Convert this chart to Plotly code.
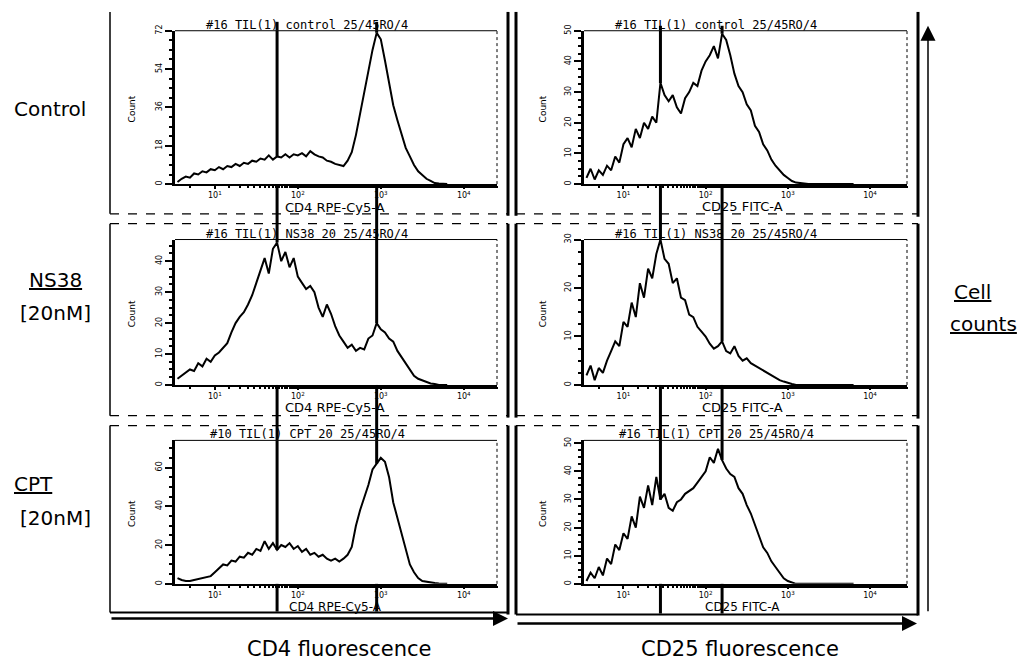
import plotly.graph_objects as go

W, H = 1033, 665

# ---------------- data ----------------
# bin centres, log10 of fluorescence intensity
BIN_LOG = [round(0.55 + 0.05 * i, 2) for i in range(66)]

CTRL_CD4 = [1, 2.5, 3.5, 3, 5, 4.5, 6, 5.5, 7, 6.5,
            8, 7, 8.5, 8, 9.5, 8.5, 10, 9.5, 11, 10.5,
            12, 11.5, 13.5, 11.5, 13, 12.5, 14, 12.5, 14, 13.5,
            14.5, 13, 15.5, 14, 13, 12.5, 11, 10.5, 9.5, 9,
            8.5, 11, 15, 23, 33, 42, 52, 63, 71, 68,
            58, 47, 37, 30, 24, 17, 13, 9, 6, 4,
            2.5, 1.5, 0.5, 0.3, 0.2, 0]
CTRL_CD25 = [2, 5, 1.5, 4.5, 3, 6, 4.5, 9, 7, 13,
             15, 12, 18, 15, 20, 18, 22, 20, 33, 29,
             27, 29, 25, 23, 28, 30, 33, 32, 37, 40,
             42, 45, 41, 49, 47, 42, 36, 32, 30, 26,
             24, 19, 17, 13, 11, 8, 6, 4.5, 3, 2,
             1, 0.5, 0.3, 0, 0, 0, 0, 0, 0, 0,
             0, 0, 0, 0, 0, 0]
NS38_CD4 = [2, 3, 4, 5, 4.5, 7, 6, 8.5, 7.5, 9.5,
            10.5, 12, 13.5, 17, 20, 22, 23.5, 26, 29, 33,
            37, 41, 36, 44, 46, 40, 43, 38, 41, 35,
            33, 31, 32, 30, 25, 22, 26, 23, 19, 16,
            14, 12, 13, 11, 12, 11.5, 15, 16, 20, 18,
            17, 15, 14, 11, 9, 7, 5, 3, 2, 1.5,
            1, 0.5, 0.3, 0, 0, 0]
NS38_CD25 = [2, 4, 1, 3.5, 2.5, 5, 7, 9, 8, 13,
             12, 17, 14, 21, 18, 24, 22, 27, 30, 26,
             25, 21, 22, 18, 17.5, 14.5, 14, 12, 11, 10,
             8.5, 7.5, 8, 9, 7, 6.5, 8, 6, 5, 5.5,
             4.5, 4, 3.5, 3, 2.5, 2, 1.5, 1, 0.7, 0.4,
             0.2, 0, 0, 0, 0, 0, 0, 0, 0, 0,
             0, 0, 0, 0, 0, 0]
CPT_CD4 = [3, 2, 1.5, 1.5, 2, 2.5, 3, 3.5, 4, 6,
           8, 10, 9.5, 12, 11.5, 14, 13.5, 16, 15, 18,
           17, 22, 18, 21, 17.5, 20, 19, 21, 18, 19.5,
           16.5, 18, 15, 16, 14, 15, 13, 12, 13, 11.5,
           13, 15, 19, 30, 38, 44, 51, 59, 62, 65,
           63, 55, 42, 34, 27, 18, 10, 6, 3, 1.5,
           1, 0.7, 0.4, 0.2, 0, 0]
CPT_CD25 = [1, 4, 2, 6, 3, 9, 7, 14, 12, 18,
            16, 24, 20, 31, 27, 35, 28, 38, 30, 32,
            27, 26, 29, 30, 32, 33, 34, 36, 38, 40,
            45, 43, 48, 44, 41, 39, 38, 34, 32, 28,
            25, 21, 17, 13, 11, 8, 6, 4, 2, 1,
            0.4, 0, 0, 0, 0, 0, 0, 0, 0, 0,
            0, 0, 0, 0, 0, 0]

GATES_CD4 = [1.75, 2.95]      # log10 positions of gate markers
GATES_CD25 = [1.45, 2.20]

X_TICKVALS = [10, 100, 1000, 10000]
X_TICKTEXT = ["10<sup>1</sup>", "10<sup>2</sup>", "10<sup>3</sup>", "10<sup>4</sup>"]

ROW_LABELS = ["Control", "<u>NS38</u>", "[20nM]", "<u>CPT</u>", "[20nM]"]

PANEL_TITLES = ["#16 TIL(1) control 25/45RO/4", "#16 TIL(1) control 25/45RO/4",
                "#16 TIL(1) NS38 20 25/45RO/4", "#16 TIL(1) NS38 20 25/45RO/4",
                "#10 TIL(1) CPT 20 25/45RO/4", "#16 TIL(1) CPT 20 25/45RO/4"]
X_TITLES = ["CD4 RPE-Cy5-A", "CD25 FITC-A"]

Y_MAX = [72, 50, 47, 30, 74, 51]
Y_TICKS = [[0, 18, 36, 54, 72], [0, 10, 20, 30, 40, 50], [0, 10, 20, 30, 40],
           [0, 10, 20, 30], [0, 20, 40, 60], [0, 10, 20, 30, 40, 50]]

SERIES = [CTRL_CD4, CTRL_CD25, NS38_CD4, NS38_CD25, CPT_CD4, CPT_CD25]

# ---------------- layout helpers ----------------
def X(px):
    return px / W


def Y(py):
    return 1 - py / H


COL_X = [(175, 497, 0.52, 4.40), (584, 907, 0.52, 4.45)]
ROW_Y = [(25, 180), (236, 383), (439, 584)]
XTITLE_Y = [[204, 406, 607], [203, 406, 607]]

fig = go.Figure()
xs = [10 ** v for v in BIN_LOG]

layout = dict(width=W, height=H, margin=dict(l=0, r=0, t=0, b=0),
              paper_bgcolor="white", plot_bgcolor="rgba(0,0,0,0)",
              showlegend=False, font=dict(family="DejaVu Sans", color="black"))
shapes = []
annotations = []


def note(text, px, py, size, family="DejaVu Sans", xanchor="center", angle=0):
    annotations.append(dict(text=text, x=X(px), y=Y(py), xref="paper", yref="paper",
                            showarrow=False, xanchor=xanchor, yanchor="middle",
                            textangle=angle, font=dict(size=size, family=family)))


def pline(x0, y0, x1, y1, width, dash="solid"):
    shapes.append(dict(type="line", xref="paper", yref="paper",
                       x0=X(x0), x1=X(x1), y0=Y(y0), y1=Y(y1),
                       line=dict(color="black", width=width, dash=dash)))


for k in range(6):
    row, col = k // 2, k % 2
    idx = k + 1
    sfx = "" if idx == 1 else str(idx)
    x0p, x1p, r0, r1 = COL_X[col]
    y0p, y1p = ROW_Y[row]
    fig.add_trace(go.Scatter(
        x=xs, y=SERIES[k], mode="lines",
        line=dict(color="black", width=2),
        fill="tozeroy", fillcolor="white",
        xaxis="x" + sfx, yaxis="y" + sfx, hoverinfo="skip"))
    layout["xaxis" + sfx] = dict(
        type="log", range=[r0, r1], domain=[X(x0p), X(x1p)], anchor="y" + sfx,
        showline=True, linecolor="black", linewidth=1.5,
        ticks="outside", ticklen=3, tickwidth=1.5, tickcolor="black",
        tickvals=X_TICKVALS, ticktext=X_TICKTEXT,
        tickfont=dict(size=8, family="DejaVu Sans"),
        showgrid=False, zeroline=False, fixedrange=True,
        minor=dict(ticks="outside", ticklen=2, tickcolor="black", showgrid=False))
    step = Y_TICKS[k][1] - Y_TICKS[k][0]
    layout["yaxis" + sfx] = dict(
        range=[0, Y_MAX[k]], domain=[Y(y1p), Y(y0p)], anchor="x" + sfx,
        showline=True, linecolor="black", linewidth=3,
        ticks="outside", ticklen=7, tickwidth=1.5, tickcolor="black",
        tickvals=Y_TICKS[k], tickangle=-90,
        tickfont=dict(size=8, family="DejaVu Sans"),
        showgrid=False, zeroline=False, fixedrange=True,
        minor=dict(ticks="outside", ticklen=3, dtick=step / 4,
                   tickcolor="black", showgrid=False))
    # top and right frame of the plot area
    shapes.append(dict(type="line", xref="x%s domain" % sfx, yref="y%s domain" % sfx,
                       x0=0, x1=1, y0=1, y1=1, line=dict(color="black", width=1)))
    shapes.append(dict(type="line", xref="x%s domain" % sfx, yref="y%s domain" % sfx,
                       x0=1, x1=1, y0=0, y1=1, line=dict(color="black", width=1, dash="dot")))
    note(PANEL_TITLES[k], [307, 716][col], y0p - 6, 12, family="DejaVu Sans Mono")
    note(X_TITLES[col], [335, 742][col], XTITLE_Y[col][row], 12 if row == 2 else 13)
    note("Count", [132, 543][col], (y0p + y1p) / 2 + 2, 9, angle=-90)

# gate markers: vertical lines that stop at the histogram outline
for col, gates in [(0, GATES_CD4), (1, GATES_CD25)]:
    top = [16, 20][col]
    bottom = [612, 614][col]
    xr = ["x", "x2"][col]
    for g in gates:
        i = min(range(len(BIN_LOG)), key=lambda j: abs(BIN_LOG[j] - g))
        # inside each panel: from the curve up to the top of the plot
        for row in range(3):
            k = row * 2 + col
            sfx = "" if k == 0 else str(k + 1)
            shapes.append(dict(type="line", xref="x" + sfx, yref="y" + sfx,
                               x0=10 ** g, x1=10 ** g, y0=SERIES[k][i], y1=Y_MAX[k],
                               line=dict(color="black", width=3)))
        # between panels
        gaps = [(top, ROW_Y[0][0]), (ROW_Y[0][1], ROW_Y[1][0]),
                (ROW_Y[1][1], ROW_Y[2][0]), (ROW_Y[2][1], bottom)]
        for a, b in gaps:
            shapes.append(dict(type="line", xref=xr, yref="paper",
                               x0=10 ** g, x1=10 ** g, y0=Y(b), y1=Y(a),
                               line=dict(color="black", width=3)))

# outer panel boxes
ROW_BOX = [(6, 210), (220, 414), (424, 613)]
for r, (t, b) in enumerate(ROW_BOX):
    pline(110, t, 110, b, 1.5)
    pline(508, t, 508, b + 2, 3)
    pline(516, t, 516, b + 2, 3)
    pline(918, t, 918, b + 3, 3)
    if r > 0:
        pline(110, t, 508, t, 1.2, "dash")
        pline(516, t, 918, t, 1.2, "dash")
    if r < 2:
        pline(110, b, 508, b, 1.2, "dash")
        pline(516, b, 918, b, 1.2, "dash")
    else:
        pline(110, b, 508, b, 2)
        pline(516, b + 2, 918, b + 2, 2)

# row labels on the left
for txt, (lx, ly) in zip(ROW_LABELS, [(12, 104), (27, 277), (18, 310), (12, 483), (18, 517)]):
    note(txt, lx, ly, 20, xanchor="left")

# "Cell counts"
note("<u>Cell</u>", 952, 289, 20, xanchor="left")
note("<u>counts</u>", 948, 321, 20, xanchor="left")

# big axis captions
note("CD4 fluorescence", 339, 650, 21)
note("CD25 fluorescence", 740, 650, 21)

# arrows
annotations.append(dict(text="", x=X(508), y=Y(619), xref="paper", yref="paper",
                        ax=-(508 - 110), ay=0, showarrow=True, arrowhead=2,
                        arrowsize=1.2, arrowwidth=2.5, arrowcolor="black"))
annotations.append(dict(text="", x=X(917), y=Y(624), xref="paper", yref="paper",
                        ax=-(917 - 516), ay=0, showarrow=True, arrowhead=2,
                        arrowsize=1.2, arrowwidth=2.5, arrowcolor="black"))
annotations.append(dict(text="", x=X(928), y=Y(20), xref="paper", yref="paper",
                        ax=0, ay=607 - 20, showarrow=True, arrowhead=2,
                        arrowsize=2, arrowwidth=1.5, arrowcolor="black"))

layout["shapes"] = shapes
layout["annotations"] = annotations
fig.update_layout(**layout)

fig.write_html("out.html")
